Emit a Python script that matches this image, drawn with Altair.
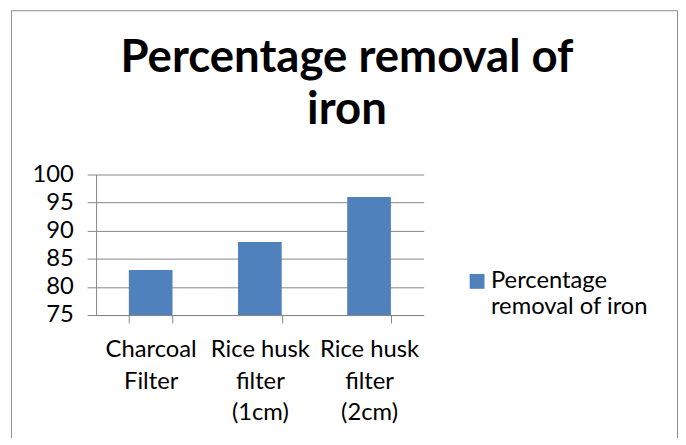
import altair as alt
import pandas as pd

categories = ["Charcoal\nFilter", "Rice husk\nfilter\n(1cm)", "Rice husk\nfilter\n(2cm)"]
values = [83, 88, 96]
series_name = "Percentage removal of iron"
y_ticks = [75, 80, 85, 90, 95, 100]

df = pd.DataFrame({"category": categories, "value": values, "series": [series_name] * 3})

FONT = "Lato"
GRID = "#868686"

bars = alt.Chart(df).mark_bar(color="#4F81BD", clip=True).encode(
    x=alt.X(
        "category:N",
        sort=categories,
        scale=alt.Scale(paddingInner=0.6, paddingOuter=0.3),
        axis=alt.Axis(
            title=None,
            labelAngle=0,
            labelExpr="split(datum.label, '\\n')",
            labelFont=FONT,
            labelFontSize=24,
            labelColor="black",
            labelLineHeight=32,
            labelPadding=15,
            tickBand="extent",
            tickSize=8,
            tickColor=GRID,
            domainColor=GRID,
            grid=False,
        ),
    ),
    y=alt.Y(
        "value:Q",
        scale=alt.Scale(domain=[75, 100], nice=False, zero=False),
        axis=alt.Axis(
            title=None,
            values=y_ticks,
            labelFont=FONT,
            labelFontSize=24,
            labelColor="black",
            labelPadding=14,
            tickSize=9,
            tickColor=GRID,
            domainColor=GRID,
            gridColor=GRID,
            gridOpacity=1,
        ),
    ),
    color=alt.Color(
        "series:N",
        scale=alt.Scale(range=["#4F81BD"]),
        legend=alt.Legend(
            title=None,
            orient="none",
            legendX=373,
            legendY=96,
            padding=0,
            symbolType="square",
            symbolSize=225,
            symbolStrokeWidth=0,
            symbolOpacity=1,
            labelFont=FONT,
            labelFontSize=24,
            labelColor="black",
            labelOffset=2,
            labelLimit=300,
            labelExpr="['Percentage', 'removal of iron']",
        ),
    ),
)

frame = alt.Chart(pd.DataFrame({"a": [0]})).mark_rect(
    fill=None, stroke="#8c8c8c", strokeWidth=1
).encode(
    x=alt.value(-85.5), x2=alt.value(587.5), y=alt.value(-165.5), y2=alt.value(300)
)

chart = alt.layer(frame, bars).properties(
    width=331,
    height=142,
    title=alt.TitleParams(
        text=["Percentage removal of", "iron"],
        font=FONT,
        fontSize=46,
        fontWeight="bold",
        color="black",
        lineHeight=53,
        baseline="alphabetic",
        anchor="middle",
        frame="group",
        dx=88,
        offset=-161,
    ),
    autosize=alt.AutoSizeParams(type="none"),
    padding={"left": 89, "top": 166, "right": 257, "bottom": 122},
).configure_view(stroke=None)

chart.save("out.html", embed_options={"renderer": "svg", "actions": False})
